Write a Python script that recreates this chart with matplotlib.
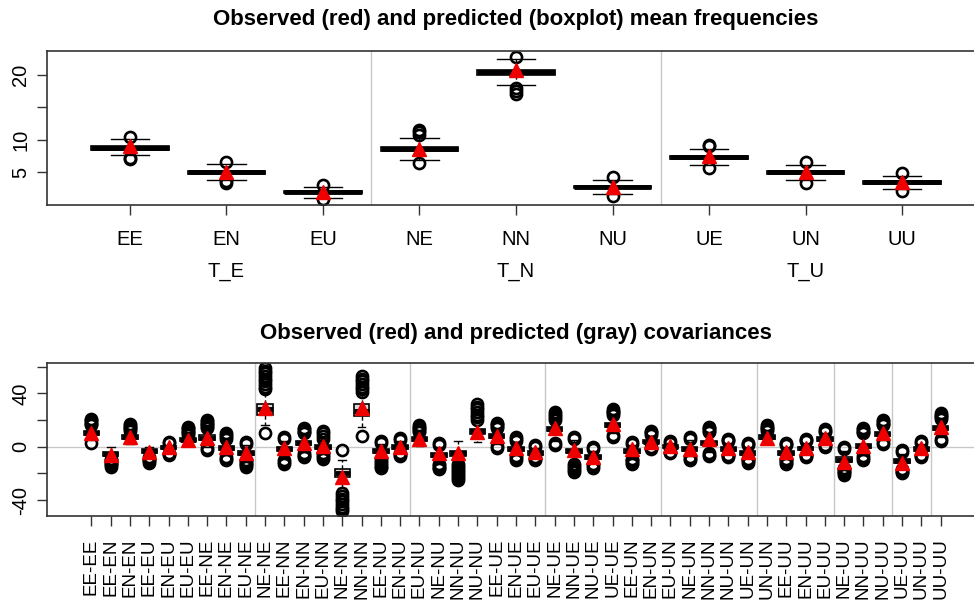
import matplotlib
matplotlib.use("Agg")
import matplotlib.pyplot as plt

plt.rcParams['font.family'] = ['Liberation Sans', 'DejaVu Sans']

# ---------------- top panel data: mean frequencies ----------------
freq_labels = ["EE", "EN", "EU", "NE", "NN", "NU", "UE", "UN", "UU"]
freq_groups = ["T_E", "T_N", "T_U"]
freq_med = [8.8, 5.0, 1.95, 8.6, 20.4, 2.7, 7.3, 5.0, 3.45]
freq_q1 = [8.5, 4.75, 1.75, 8.35, 20.0, 2.5, 7.05, 4.75, 3.25]
freq_q3 = [9.05, 5.25, 2.15, 8.9, 20.8, 2.9, 7.55, 5.25, 3.65]
freq_wlo = [7.6, 3.85, 1.1, 6.9, 18.5, 1.7, 6.05, 3.85, 2.45]
freq_whi = [10.1, 6.3, 2.8, 10.35, 22.5, 3.75, 8.6, 6.05, 4.35]
freq_out = [
    [7.2, 7.0, 10.5],
    [3.4, 3.6, 6.6],
    [0.8, 3.1],
    [6.5, 10.8, 11.2, 11.5],
    [17.1, 17.5, 18.0, 22.8],
    [1.3, 4.25],
    [5.7, 9.0, 9.2],
    [3.4, 6.55],
    [2.05, 4.9],
]
freq_obs = [9.1, 5.1, 1.9, 8.6, 20.8, 2.8, 7.5, 5.1, 3.5]

# ---------------- bottom panel data: covariances ----------------
cov_labels = ["EE-EE", "EE-EN", "EN-EN", "EE-EU", "EN-EU", "EU-EU", "EE-NE", "EN-NE", "EU-NE",
              "NE-NE", "EE-NN", "EN-NN", "EU-NN", "NE-NN", "NN-NN", "EE-NU", "EN-NU", "EU-NU",
              "NE-NU", "NN-NU", "NU-NU", "EE-UE", "EN-UE", "EU-UE", "NE-UE", "NN-UE", "NU-UE",
              "UE-UE", "EE-UN", "EN-UN", "EU-UN", "NE-UN", "NN-UN", "NU-UN", "UE-UN", "UN-UN",
              "EE-UU", "EN-UU", "EU-UU", "NE-UU", "NN-UU", "NU-UU", "UE-UU", "UN-UU", "UU-UU"]
cov_med = [10, -5.5, 7, -3.5, -0.5, 5, 6.5, -1, -5,
           28, -2, 2.5, -0.5, -20, 27, -3.5, -0.5, 5.5,
           -6, -5, 11.5, 8, -2, -4.5, 13, -3.5, -7.5,
           16.5, -3, 3.75, 0, -2, 3, -1.5, -4.5, 7,
           -4.5, -1.25, 5.5, -10, 0.5, 9.5, -11, -2, 14]
cov_q1 = [8.5, -7, 5.5, -5, -1.5, 4, 5, -2.5, -6.5,
          24, -3.5, 1, -2, -23, 23, -5, -2, 4,
          -7.5, -7, 9.5, 6.5, -3.5, -6, 11.5, -5, -9,
          15, -4.5, 2.5, -1, -3.5, 1.5, -3, -6, 5.5,
          -6, -2.5, 4, -11.5, -1, 8, -12.5, -3.5, 12.5]
cov_q3 = [11.5, -4, 8.5, -2, 0.5, 6.5, 8.5, 0.5, -3.5,
          32, -0.5, 4, 1, -17, 32, -2, 1, 7,
          -4.5, -3, 13.5, 9.5, -0.5, -3, 14.5, -2, -6,
          18, -1.5, 5, 1, -0.5, 4.5, 0, -3, 8.5,
          -3, 0, 7, -8, 2, 11, -9.5, -0.5, 15.5]
cov_wlo = [5, -8, 2, -7, -3.5, 1, 0, -6.5, -9,
           16, -8.5, -4, -4, -31, 15, -8, -4, 0.5,
           -12, -12, 3.75, 2, -6, -7, 4, -12, -12,
           10, -8, 0.5, -3, -7, -4, -5, -8, 2,
           -8, -5, 2, -15, -6, 5, -16, -5, 7]
cov_whi = [14.5, -0.5, 11, 0, 1.5, 8, 13, 4.5, 1,
           40, 4.5, 9, 5, -10, 40, 2, 4, 10,
           0, 4.25, 19, 13, 3, -1, 19, 5, -3,
           23, 1, 8, 2.5, 5, 10, 3, 0, 11,
           0, 3, 10, -3.5, 9, 15, -5.5, 2, 20]
cov_out = [
    [2.5, 16, 17, 18, 19, 20, 21],
    [-9, -10, -11, -12, -13, -14, -15],
    [12, 13, 14, 15, 16, 17],
    [-8, -9, -10, -11, -12],
    [2.5, 3.5, -4.5, -5.5, -6.5],
    [9, 10, 11, 12, 13, 14, 15],
    [14, 15, 16, 17, 18, 19, 20, -1, -2.5],
    [6, 7.5, 9, 10.5, -8, -9, -10],
    [2, 3.5, -10, -11, -12, -13, -14, -15],
    [10, 43, 45, 47, 49, 51, 53, 55, 57, 59],
    [6, 7.5, -10, -11.5, -13],
    [10, 11, 12, 13, 14, -5, -6, -7, -8],
    [6, 8, 10, 12, -5, -6.5, -8, -9],
    [-2.5, -35, -37, -39, -41, -43, -45, -47, -48],
    [8, 41, 43, 45, 47, 49, 51, 53],
    [3, 4.5, -9, -10.5, -12, -13.5, -15, -16],
    [5, 6.5, -5, -6, -7],
    [11, 12, 13, 14, 15, 16],
    [1, 2.5, -13, -14, -15, -16, -17],
    [-13, -14.5, -16, -17.5, -19, -20.5, -22, -23.5, -25],
    [20, 22, 24, 26, 28, 30, 32],
    [14, 15, 16, 17, 18, -1, 0.5],
    [4, 5.5, 7, -7, -8.5, -10],
    [0, 1.5, -8, -9, -10],
    [20, 21.5, 23, 24.5, 26, 1, 2.5],
    [6, 7.5, -13, -14.5, -16, -17.5, -19],
    [-2, -0.5, -13, -14.5, -16],
    [24, 25, 26, 27, 28, 7, 9],
    [2, 3.5, -9, -10, -11, -12, -13],
    [9, 10, 11, 12, -0.5, -1.5],
    [3, 4, -4, -5],
    [6, 7.5, -8, -9, -10],
    [11, 12, 13, 14, 15, -5, -6, -7],
    [4, 5, 6, -6, -7, -8],
    [1, 2, 3, -9, -10, -11, -12],
    [12, 13, 14, 15, 16],
    [1, 2, 3, -9, -10, -11, -12, -13],
    [4, 5, 6, -6, -7, -8],
    [11, 12, 13, 0, 1],
    [-2, -0.5, -16, -17, -18, -19, -20, -21],
    [10, 11, 12, 13, 14, -7, -8.5, -10],
    [16, 17, 18, 19, 20, 2, 3.5],
    [-4, -2.5, -17, -18, -19, -20],
    [3, 4, -6, -7, -8],
    [21, 22, 23, 24, 25, 4, 5.5],
]
cov_obs = [10.5, -6, 7.5, -3.75, -0.5, 5, 6.25, -0.5, -4.5,
           28.75, -1.25, 3, 0.5, -23, 29, -3, 0, 5.5,
           -5, -4.5, 11, 8, -1.25, -3.75, 13.75, -2.5, -7.5,
           17, -2, 3.75, 0.5, -2, 5.5, -1.25, -3.75, 6.25,
           -3.75, -1.25, 6.25, -11.25, 0.5, 10.5, -12.5, -1.25, 15]
cov_block_sizes = [9, 8, 7, 6, 5, 4, 3, 2, 1]


def make_stats(med, q1, q3, wlo, whi, out):
    return [dict(med=m, q1=a, q3=b, whislo=lo, whishi=hi, fliers=f)
            for m, a, b, lo, hi, f in zip(med, q1, q3, wlo, whi, out)]


box_kw = dict(widths=0.8, capwidths=0.4, patch_artist=True, showfliers=True,
              boxprops=dict(facecolor='#d9d9d9', edgecolor='black', linewidth=1.2),
              medianprops=dict(color='black', linewidth=3.5, solid_capstyle='butt'),
              whiskerprops=dict(color='black', linestyle=(0, (3, 2)), linewidth=1.0),
              capprops=dict(color='black', linewidth=1.0),
              flierprops=dict(marker='o', markerfacecolor='none', markeredgecolor='black',
                              markersize=8, markeredgewidth=1.9))

W, H = 974, 600
fig = plt.figure(figsize=(W / 100, H / 100), dpi=100)
FS = 14.5
TFS = 16

# ---- top axes
ax1 = fig.add_axes([47 / W, 1 - 205 / H, (985 - 47) / W, (205 - 51) / H])
n1 = len(freq_labels)
pos1 = list(range(1, n1 + 1))
for v in [3.5, 6.5]:
    ax1.axvline(v, color='#c8c8c8', lw=1.0, zorder=0)
ax1.bxp(make_stats(freq_med, freq_q1, freq_q3, freq_wlo, freq_whi, freq_out),
        positions=pos1, **box_kw)
ax1.plot(pos1, freq_obs, linestyle='none', marker='^', color='#ee0000',
         markersize=10, zorder=5)
ax1.set_xlim(0.14, n1 + 0.86)
ax1.set_ylim(-0.05, 23.7)
ax1.set_xticks(pos1)
ax1.set_xticklabels(freq_labels, fontsize=FS)
ax1.set_yticks([5, 10, 15, 20])
ax1.set_yticklabels(['5', '10', '', '20'], fontsize=FS, rotation=90, va='center')
ax1.tick_params(axis='x', length=7, width=1, pad=11, colors='#333333', labelcolor='black')
ax1.tick_params(axis='y', length=7, width=1, pad=5, colors='#333333', labelcolor='black')
for i, g in enumerate(freq_groups):
    ax1.text(2 + 3 * i, -0.435, g, transform=ax1.get_xaxis_transform(),
             ha='center', va='center', fontsize=FS)

# ---- bottom axes
ax2 = fig.add_axes([47 / W, 1 - 516 / H, (985 - 47) / W, (516 - 362.7) / H])
n2 = len(cov_labels)
pos2 = list(range(1, n2 + 1))
edge = 0
for s in cov_block_sizes[:-1]:
    edge += s
    ax2.axvline(edge + 0.5, color='#c8c8c8', lw=1.0, zorder=0)
ax2.axhline(0, color='#c8c8c8', lw=1.0, zorder=0)
ax2.bxp(make_stats(cov_med, cov_q1, cov_q3, cov_wlo, cov_whi, cov_out),
        positions=pos2, **box_kw)
ax2.plot(pos2, cov_obs, linestyle='none', marker='^', color='#ee0000',
         markersize=9.5, zorder=5)
ax2.set_xlim(-1.3, n2 + 2.3)
ax2.set_ylim(-52, 63)
ax2.set_xticks(pos2)
ax2.set_xticklabels(cov_labels, fontsize=13.5, rotation=90)
ax2.set_yticks([-40, -20, 0, 20, 40, 60])
ax2.set_yticklabels(['-40', '', '0', '', '40', ''], fontsize=FS, rotation=90, va='center')
ax2.tick_params(axis='x', length=7, width=1, pad=9, colors='#333333', labelcolor='black')
ax2.tick_params(axis='y', length=7, width=1, pad=5, colors='#333333', labelcolor='black')

for ax in (ax1, ax2):
    for sp in ax.spines.values():
        sp.set_color('#333333')
        sp.set_linewidth(1.2)

fig.text(516 / W, 1 - 20 / H, "Observed (red) and predicted (boxplot) mean frequencies",
         ha='center', va='center', fontsize=TFS, fontweight='bold')
fig.text(516 / W, 1 - 333 / H, "Observed (red) and predicted (gray) covariances",
         ha='center', va='center', fontsize=TFS, fontweight='bold')

fig.savefig('out.png', dpi=100)
